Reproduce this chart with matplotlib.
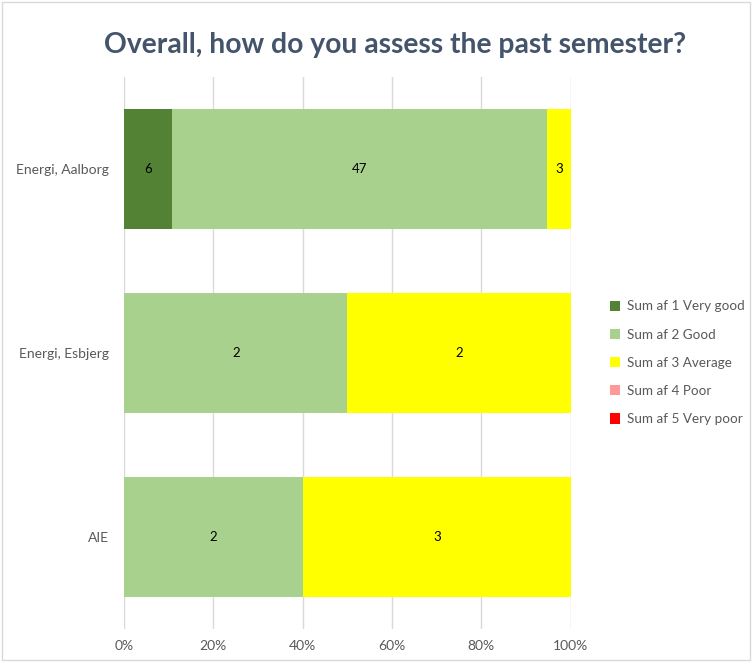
import numpy as np
import matplotlib.pyplot as plt
from matplotlib.patches import Rectangle

plt.rcParams['font.family'] = ['Lato', 'DejaVu Sans']

groups = ['Energi, Aalborg', 'Energi, Esbjerg', 'AIE']
series = ['Sum af 1 Very good', 'Sum af 2 Good', 'Sum af 3 Average',
          'Sum af 4 Poor', 'Sum af 5 Very poor']
very_good = [6, 0, 0]
good = [47, 2, 2]
average = [3, 2, 3]
poor = [0, 0, 0]
very_poor = [0, 0, 0]
colors = ['#548235', '#A9D18E', '#FFFF00', '#FF9999', '#FF0000']

counts = np.array([very_good, good, average, poor, very_poor], dtype=float)
totals = counts.sum(axis=0)
shares = counts / totals

fig = plt.figure(figsize=(7.52, 6.62), dpi=100)
fig.patches.append(Rectangle((0.003, 0.003), 0.994, 0.994, transform=fig.transFigure,
                             fill=False, edgecolor='#D9D9D9', linewidth=1))
ax = fig.add_axes([0.165, 0.050, 0.594, 0.834])

y = np.arange(len(groups))
left = np.zeros(len(groups))
for i, name in enumerate(series):
    ax.barh(y, shares[i], left=left, height=0.65, color=colors[i], label=name, zorder=2)
    for j in range(len(groups)):
        if counts[i, j] > 0:
            ax.text(left[j] + shares[i, j] / 2, y[j], str(int(counts[i, j])),
                    ha='center', va='center', fontsize=9.5, color='black', zorder=3)
    left += shares[i]

ax.set_xlim(0, 1)
ax.set_ylim(len(groups) - 0.5, -0.5)
ax.set_xticks(np.arange(0, 1.01, 0.2))
ax.set_xticklabels([f'{int(v * 100)}%' for v in np.arange(0, 1.01, 0.2)])
ax.set_yticks(y)
ax.set_yticklabels(groups)
ax.tick_params(axis='both', length=0, labelsize=10, colors='#595959', pad=11)
ax.tick_params(axis='x', pad=8)
ax.grid(axis='x', color='#D9D9D9', linewidth=1, zorder=0)
for s in ax.spines.values():
    s.set_visible(False)

ax.legend(loc='center left', bbox_to_anchor=(1.06, 0.482), frameon=False,
          fontsize=9.7, handlelength=0.8, handleheight=0.8, labelspacing=1.2,
          handletextpad=0.5, labelcolor='#595959')

fig.text(0.525, 0.932, 'Overall, how do you assess the past semester?', ha='center',
         va='center', fontsize=20.3, fontweight='bold', color='#44546A')

fig.savefig('out.png', dpi=100)
